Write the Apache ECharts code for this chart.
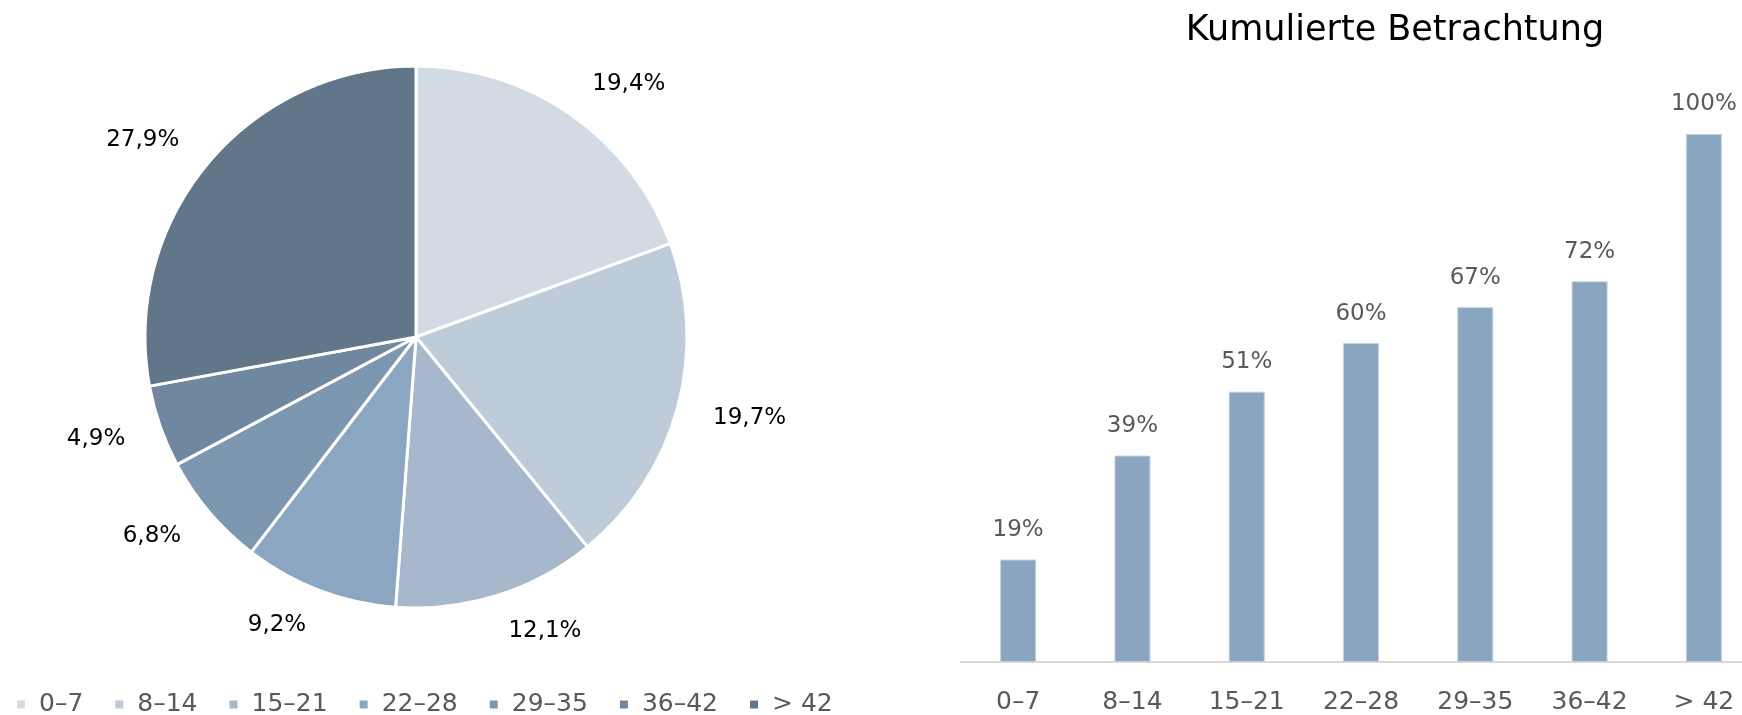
<!DOCTYPE html>
<html>
<head>
<meta charset="utf-8">
<script src="https://cdn.jsdelivr.net/npm/echarts@6/dist/echarts.min.js"></script>
<style>
  html, body { margin: 0; padding: 0; background: #fff; }
  #chart { width: 1742px; height: 715px; }
</style>
</head>
<body>
<div id="chart"></div>
<script>
// Kategorien (Tage)
const categories = ['0\u20137', '8\u201314', '15\u201321', '22\u201328', '29\u201335', '36\u201342', '> 42']
// Anteile je Kategorie in %
const shares = [19.4, 19.7, 12.1, 9.2, 6.8, 4.9, 27.9]
// kumulierte Werte in %
const cumulative = [19.4, 39.1, 51.2, 60.4, 67.2, 72.1, 100]
const pieColors = ['#d2dae3', '#becbd8', '#a7b8cc', '#8ba6c0', '#7e97b0', '#6f889f', '#617689']

const FONT = 'DejaVu Sans'

const pieData = categories.map((name, i) => ({
  name: name,
  value: shares[i],
  itemStyle: { color: pieColors[i] },
}))

const myChart = echarts.init(document.getElementById('chart'))
myChart.setOption({
  animation: false,
  textStyle: { fontFamily: FONT },
  title: {
    text: 'Kumulierte Betrachtung',
    left: 1390,
    top: 8,
    textAlign: 'center',
    textStyle: { fontFamily: FONT, fontSize: 35, fontWeight: 'normal', color: '#000' },
  },
  legend: {
    left: 10,
    top: 687,
    itemWidth: 10,
    itemHeight: 10,
    itemGap: 30,
    icon: 'rect',
    data: categories,
    textStyle: { fontFamily: FONT, fontSize: 25, color: '#595959', padding: [0, 0, 0, 8] },
  },
  grid: {
    left: 961,
    width: 800,
    top: 134,
    bottom: 53,
    // rechter Rand ragt ueber das Bild hinaus (wie im Original abgeschnitten)
    outerBoundsMode: 'none',
  },
  xAxis: {
    type: 'category',
    data: categories,
    axisLine: { lineStyle: { color: '#d9d9d9', width: 2 } },
    axisTick: { show: false },
    axisLabel: { fontFamily: FONT, fontSize: 25, color: '#595959', margin: 28 },
  },
  yAxis: {
    type: 'value',
    min: 0,
    max: 100,
    show: false,
  },
  series: [
    {
      type: 'pie',
      center: [416, 337],
      radius: [0, 271],
      startAngle: 90,
      clockwise: true,
      data: pieData,
      itemStyle: { borderColor: '#fff', borderWidth: 3 },
      label: {
        show: true,
        position: 'outside',
        distanceToLabelLine: 0,
        fontFamily: FONT,
        fontSize: 23,
        color: '#000',
        formatter: (p) => p.value.toFixed(1).replace('.', ',') + '%',
      },
      labelLine: { show: false, length: 37, length2: 0 },
      emphasis: { disabled: true },
    },
    {
      type: 'bar',
      data: cumulative,
      barWidth: 36,
      itemStyle: { color: '#8aa5c0', borderColor: '#c3d1e0', borderWidth: 1 },
      label: {
        show: true,
        position: 'top',
        distance: 18,
        fontFamily: FONT,
        fontSize: 23,
        color: '#595959',
        formatter: (p) => Math.round(p.value) + '%',
      },
      emphasis: { disabled: true },
    },
  ],
})
</script>
</body>
</html>
